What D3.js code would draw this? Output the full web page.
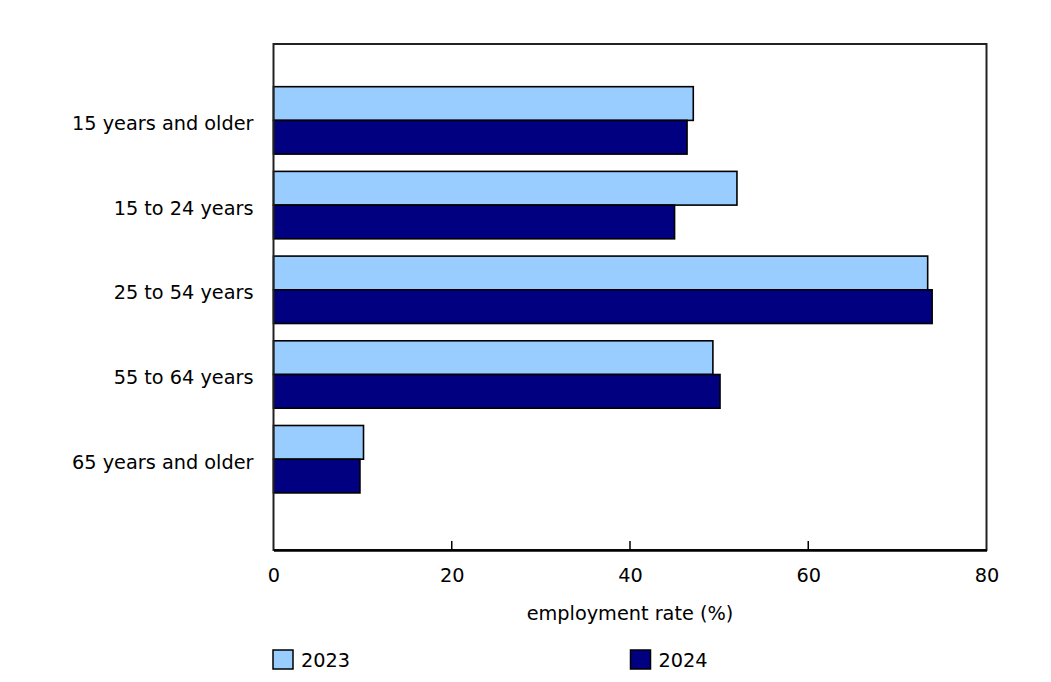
<!DOCTYPE html>
<html><head><meta charset="utf-8">
<script src="https://cdn.jsdelivr.net/npm/d3@7"></script>
<style>body{margin:0;background:#fff;}svg{display:block;font-family:"DejaVu Sans",Verdana,sans-serif;}</style>
</head><body>
<svg id="c" width="1051" height="682"></svg>
<script>
const categories = ["15 years and older","15 to 24 years","25 to 54 years","55 to 64 years","65 years and older"];
const seriesNames = ["2023","2024"];
const values2023 = [47.1, 52.0, 73.4, 49.3, 10.1];
const values2024 = [46.4, 45.0, 73.9, 50.1, 9.7];
const xTicks = [0, 20, 40, 60, 80];
const colors = ["#99ccff", "#000080"];

const FS = 19.3;
const FONT = '"DejaVu Sans",Verdana,sans-serif';
const svg = d3.select("#c");
const L = 273.5, R = 986.5, T = 44, B = 550;
const x = d3.scaleLinear().domain([0, 80]).range([L, R]);
const y = d3.scaleBand().domain(categories).range([69.4, 510.2]).paddingInner(0.204).paddingOuter(0.204);
const ySub = d3.scaleBand().domain(seriesNames).range([0, y.bandwidth()]);

const data = categories.map((c, i) => ({cat: c, vals: [values2023[i], values2024[i]]}));

// bars
const g = svg.append("g");
data.forEach(d => {
  seriesNames.forEach((s, j) => {
    g.append("rect")
      .attr("x", x(0))
      .attr("y", y(d.cat) + ySub(s))
      .attr("width", x(d.vals[j]) - x(0))
      .attr("height", ySub.bandwidth())
      .attr("fill", colors[j])
      .attr("stroke", "#000")
      .attr("stroke-width", 1.6);
  });
});

// frame
svg.append("rect").attr("x", L).attr("y", T).attr("width", R - L).attr("height", B - T)
  .attr("fill", "none").attr("stroke", "#222").attr("stroke-width", 2);

// x axis
const xAxis = d3.axisBottom(x).tickValues(xTicks).tickSize(0).tickPadding(0).tickFormat(d3.format("d"));
const ax = svg.append("g").attr("transform", `translate(0,${B})`).call(xAxis);
ax.select(".domain").attr("stroke", "#000").attr("stroke-width", 2.5);
ax.selectAll("text").attr("font-size", FS).attr("fill", "#000").attr("font-family", FONT)
  .attr("y", 31.5).attr("dy", null);
// inner ticks
svg.append("g").selectAll("line").data(xTicks.slice(1, -1)).join("line")
  .attr("x1", d => x(d)).attr("x2", d => x(d)).attr("y1", B).attr("y2", B - 9)
  .attr("stroke", "#000").attr("stroke-width", 1.5);

// y axis labels
const yAxis = d3.axisLeft(y).tickSize(0).tickPadding(20);
const ay = svg.append("g").attr("transform", `translate(${L},0)`).call(yAxis);
ay.select(".domain").remove();
ay.selectAll("text").attr("font-size", FS).attr("fill", "#000").attr("font-family", FONT)
  .attr("dy", null).attr("y", 9.5);

// axis title
svg.append("text").attr("x", (L + R) / 2).attr("y", 619.5).attr("text-anchor", "middle")
  .attr("font-size", FS).attr("fill", "#000").text("employment rate (%)");

// legend
const legX = [273, 630.5];
seriesNames.forEach((s, j) => {
  svg.append("rect").attr("x", legX[j]).attr("y", 650).attr("width", 20).attr("height", 19)
    .attr("fill", colors[j]).attr("stroke", "#000").attr("stroke-width", 1.5);
  svg.append("text").attr("x", legX[j] + 28).attr("y", 666.5).attr("font-size", FS).attr("fill", "#000").text(s);
});
</script>
</body></html>
